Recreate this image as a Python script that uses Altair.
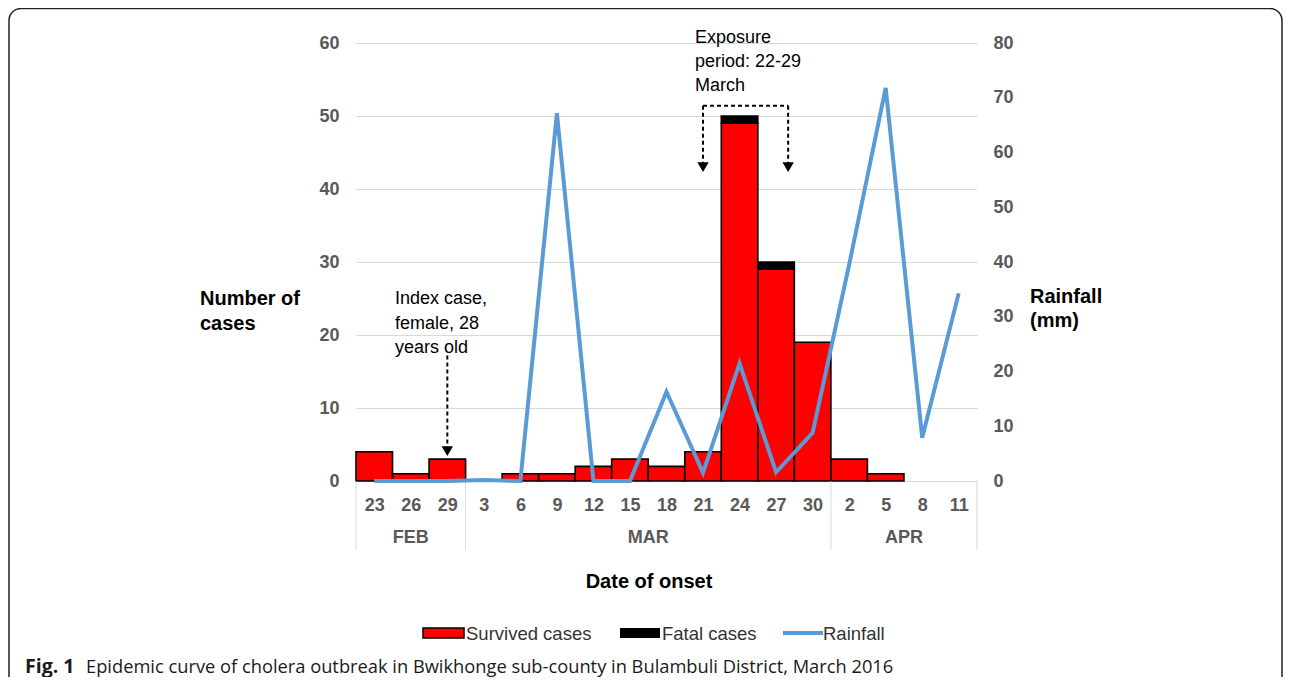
import json
import altair as alt
import pandas as pd

# ---------------- data ----------------
days = ["23", "26", "29", "3", "6", "9", "12", "15", "18", "21", "24", "27", "30", "2", "5", "8", "11"]
months = ["FEB"] * 3 + ["MAR"] * 10 + ["APR"] * 4
survived = [4, 1, 3, 0, 1, 1, 2, 3, 2, 4, 49, 29, 19, 3, 1, 0, 0]
fatal = [0, 0, 0, 0, 0, 0, 0, 0, 0, 0, 1, 1, 0, 0, 0, 0, 0]
rainfall = [0, 0, 0, 0.2, 0, 67.2, 0, 0, 16.3, 1.5, 21.5, 1.6, 8.8, 39.5, 71.8, 7.9, 34.3]
left_ticks = [0, 10, 20, 30, 40, 50, 60]
right_ticks = [0, 10, 20, 30, 40, 50, 60, 70, 80]

# annotation anchors (in category index / case units)
index_case_x = 2            # 29 Feb
index_arrow_y = [17.2, 4.6]
exposure_x = [9.0, 11.33]   # 22 - 29 March
exposure_y = [51.4, 43.6]

N = len(days)
df = pd.DataFrame({
    "i": list(range(N)),
    "day": days,
    "month": months,
    "survived": survived,
    "fatal": fatal,
    "rain": rainfall,
})
df["x0"] = df["i"] - 0.5
df["x1"] = df["i"] + 0.5
df["zero"] = 0
df["total"] = df["survived"] + df["fatal"]

# month groups
groups = []
for m in dict.fromkeys(months):
    ids = [k for k, mm in enumerate(months) if mm == m]
    groups.append({"month": m, "mid": (ids[0] + ids[-1]) / 2, "start": ids[0] - 0.5, "end": ids[-1] + 0.5})
gdf = pd.DataFrame(groups)
bounds = sorted(set(list(gdf["start"]) + list(gdf["end"])))
bdf = pd.DataFrame({"b": bounds})

FONT = "Liberation Sans"
GRAY = "#595959"
W, H = 621, 438

xs = alt.Scale(domain=[-0.5, N - 0.5], nice=False, zero=False)
ys_left = alt.Scale(domain=[0, 60], nice=False, zero=True)
ys_right = alt.Scale(domain=[0, 80], nice=False, zero=True)

label_expr = json.dumps(days) + "[datum.value]"

x_axis = alt.Axis(values=list(range(N)), labelExpr=label_expr, grid=False, ticks=False,
                  domain=True, domainColor="#d9d9d9", domainWidth=1,
                  labelFont=FONT, labelFontSize=18, labelFontWeight="bold", labelColor=GRAY,
                  labelPadding=15, labelAngle=0, labelOverlap=False, labelFlush=False, title=None)
y_axis_left = alt.Axis(values=left_ticks, grid=True, gridColor="#d9d9d9", gridWidth=1,
                       domain=False, ticks=False, labelPadding=17, labelOverlap=False,
                       labelFont=FONT, labelFontSize=18, labelFontWeight="bold", labelColor=GRAY,
                       title=None)
y_axis_right = alt.Axis(orient="right", values=right_ticks, grid=False, domain=False, ticks=False,
                        labelPadding=16, labelFont=FONT, labelFontSize=18, labelFontWeight="bold",
                        labelColor=GRAY, labelOverlap=False, title=None)

dummy = pd.DataFrame({"k": [0]})


def txt(lines, x, y, size=18, weight="normal", color="black", align="left", font=FONT, lh=24):
    return alt.Chart(dummy).mark_text(
        text=lines, font=font, fontSize=size, fontWeight=weight, color=color,
        align=align, baseline="alphabetic", lineHeight=lh
    ).encode(x=alt.value(x), y=alt.value(y))


# frame
frame = alt.Chart(dummy).mark_rect(fillOpacity=0, stroke="#222222", strokeWidth=1.5, cornerRadius=12).encode(
    x=alt.value(-347), x2=alt.value(926), y=alt.value(-34.5), y2=alt.value(720)
)

bars = alt.Chart(df[df["survived"] > 0]).mark_rect(color="#FF0000", stroke="black", strokeWidth=1.6).encode(
    x=alt.X("x0:Q", scale=xs, axis=x_axis),
    x2="x1:Q",
    y=alt.Y("survived:Q", scale=ys_left, axis=y_axis_left),
    y2="zero:Q",
)
fatal_bars = alt.Chart(df[df["fatal"] > 0]).mark_rect(color="black", stroke="black", strokeWidth=1.6).encode(
    x=alt.X("x0:Q", scale=xs, axis=x_axis),
    x2="x1:Q",
    y=alt.Y("survived:Q", title=None),
    y2="total:Q",
)

# month separators and labels
seps = alt.Chart(bdf).mark_rule(color="#d9d9d9", strokeWidth=1).encode(
    x=alt.X("b:Q", scale=xs, axis=x_axis), y=alt.value(H), y2=alt.value(507)
)
mlabels = alt.Chart(gdf).mark_text(font=FONT, fontSize=18, fontWeight="bold", color=GRAY,
                                   baseline="alphabetic", align="center").encode(
    x=alt.X("mid:Q", scale=xs, axis=x_axis), y=alt.value(500), text="month:N"
)

# annotation arrows
arrows = pd.DataFrame([
    {"x": index_case_x, "x2": index_case_x, "y": index_arrow_y[0], "y2": index_arrow_y[1]},
    {"x": exposure_x[0], "x2": exposure_x[1], "y": exposure_y[0], "y2": exposure_y[0]},
    {"x": exposure_x[0], "x2": exposure_x[0], "y": exposure_y[0], "y2": exposure_y[1]},
    {"x": exposure_x[1], "x2": exposure_x[1], "y": exposure_y[0], "y2": exposure_y[1]},
])
heads = pd.DataFrame([
    {"x": index_case_x, "y": index_arrow_y[1] - 0.5},
    {"x": exposure_x[0], "y": exposure_y[1] - 0.6},
    {"x": exposure_x[1], "y": exposure_y[1] - 0.6},
])
arrow_rules = alt.Chart(arrows).mark_rule(color="black", strokeWidth=2, strokeDash=[4, 3]).encode(
    x=alt.X("x:Q", scale=xs, axis=x_axis), x2="x2:Q", y=alt.Y("y:Q", title=None), y2="y2:Q"
)
arrow_heads = alt.Chart(heads).mark_point(shape="triangle-down", filled=True, color="black", size=130, opacity=1).encode(
    x=alt.X("x:Q", scale=xs, axis=x_axis), y=alt.Y("y:Q", title=None)
)

# texts
t_index = txt(["Index case,", "female, 28", "years old"], 39, 261, size=18, lh=24.5)
t_expo = txt(["Exposure", "period: 22-29", "March"], 339, 0, size=18, lh=24)
t_ytitle = txt(["Number of", "cases"], -156, 262, size=20, weight="bold", lh=25)
t_y2title = txt(["Rainfall", "(mm)"], 674, 260, size=20, weight="bold", lh=24)
t_xtitle = txt("Date of onset", 293, 545, size=20, weight="bold", align="center")

# legend
leg_sw1 = alt.Chart(dummy).mark_rect(color="#FF0000", stroke="black", strokeWidth=1.5).encode(
    x=alt.value(67), x2=alt.value(108), y=alt.value(585), y2=alt.value(595))
leg_t1 = txt("Survived cases", 110, 597, size=18.5, color="#333333")
leg_sw2 = alt.Chart(dummy).mark_rect(color="black").encode(
    x=alt.value(264), x2=alt.value(304), y=alt.value(585), y2=alt.value(595))
leg_t2 = txt("Fatal cases", 306, 597, size=18.5, color="#333333")
leg_ln = alt.Chart(dummy).mark_rule(color="#5B9BD5", strokeWidth=4).encode(
    x=alt.value(427), x2=alt.value(467), y=alt.value(590))
leg_t3 = txt("Rainfall", 467, 597, size=18.5, color="#333333")

# caption
cap1 = txt("Fig. 1", -331, 630, size=19.5, weight="bold", font="Open Sans", color="#1a1a1a")
cap2 = txt("Epidemic curve of cholera outbreak in Bwikhonge sub-county in Bulambuli District, March 2016",
           -270, 630, size=18.3, font="Open Sans", color="#1a1a1a")

left = alt.layer(frame, bars, fatal_bars, seps, mlabels, arrow_rules, arrow_heads,
                 t_index, t_expo, t_ytitle, t_y2title, t_xtitle,
                 leg_sw1, leg_t1, leg_sw2, leg_t2, leg_ln, leg_t3, cap1, cap2)

line = alt.Chart(df).mark_line(color="#5B9BD5", strokeWidth=4, strokeJoin="miter").encode(
    x=alt.X("i:Q", scale=xs, axis=x_axis),
    y=alt.Y("rain:Q", scale=ys_right, axis=y_axis_right),
)

chart = alt.layer(left, line).resolve_scale(y="independent").properties(
    width=W, height=H,
    autosize=alt.AutoSizeParams(type="none"),
    padding={"left": 348, "top": 35, "right": 307, "bottom": 196},
    background="white",
).configure_view(stroke="transparent")

chart.save("out.html", embed_options={"renderer": "svg", "actions": False})
